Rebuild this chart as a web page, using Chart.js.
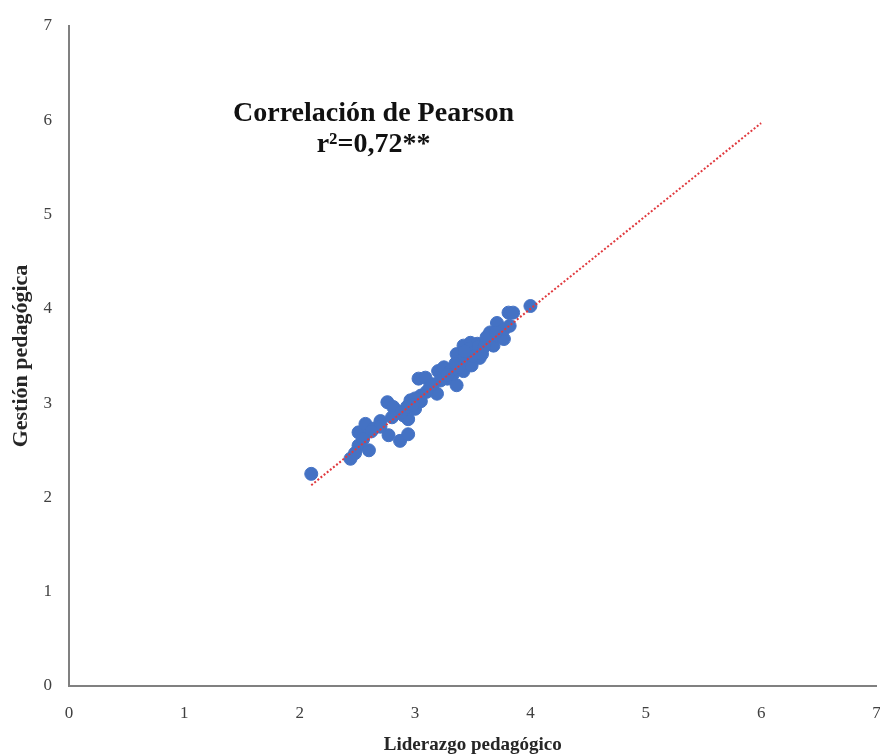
<!DOCTYPE html>
<html>
<head>
<meta charset="utf-8">
<script src="https://cdn.jsdelivr.net/npm/chart.js@4.4.1/dist/chart.umd.min.js"></script>
<style>
    html, body { margin: 0; padding: 0; background: #ffffff; overflow: hidden; }
    #wrap { width: 884px; height: 756px; }
</style>
</head>
<body>
<div id="wrap"><canvas id="scatterChart"></canvas></div>
<script>
// ===== Data =====
const liderazgo = [
    2.10, 2.44, 2.51, 2.60, 2.51, 2.57, 2.64, 2.70, 2.77, 2.87,
    2.94, 2.76, 2.84, 2.90, 2.94, 2.96, 3.00, 2.93, 3.03, 3.09,
    3.13, 3.19, 3.20, 3.25, 3.28, 3.36, 3.33, 3.36, 3.42, 3.48,
    3.54, 3.39, 3.45, 3.52, 3.56, 3.42, 3.49, 3.58, 3.65, 3.68,
    3.72, 3.77, 3.71, 3.77, 3.82, 3.81, 3.85, 4.00, 3.65, 2.81,
    2.48, 3.05, 3.30, 3.46, 3.40, 3.47, 3.55, 3.50, 3.43, 3.58,
    3.60, 3.38, 3.32, 3.22, 3.15, 3.10, 3.05, 3.00, 2.98, 2.88,
    2.80, 2.70, 2.62, 2.55, 3.62, 3.70, 3.28, 3.35
];
const gestion = [
    2.25, 2.41, 2.55, 2.50, 2.69, 2.78, 2.73, 2.81, 2.66, 2.60,
    2.67, 3.01, 2.92, 2.87, 2.83, 3.03, 2.94, 2.96, 3.26, 3.27,
    3.17, 3.10, 3.34, 3.38, 3.26, 3.19, 3.31, 3.52, 3.61, 3.64,
    3.63, 3.41, 3.48, 3.54, 3.48, 3.34, 3.40, 3.57, 3.66, 3.61,
    3.71, 3.68, 3.85, 3.78, 3.82, 3.96, 3.96, 4.03, 3.75, 2.96,
    2.47, 3.08, 3.33, 3.56, 3.45, 3.58, 3.60, 3.50, 3.55, 3.52,
    3.60, 3.38, 3.36, 3.24, 3.20, 3.12, 3.02, 3.05, 2.98, 2.90,
    2.85, 2.75, 2.70, 2.62, 3.70, 3.75, 3.30, 3.42
];

// Trend line end points
const trendX = [2.1, 6.0];
const trendY = [2.13, 5.97];

// Tick values
const tickValues = [0, 1, 2, 3, 4, 5, 6, 7];

const axisTitleX = 'Liderazgo pedagógico';
const axisTitleY = 'Gestión pedagógica';
const noteLines = ['Correlación de Pearson', 'r²=0,72**'];

const serif = '"Liberation Serif", "Times New Roman", serif';

// Annotation text inside the plot
const notePlugin = {
    id: 'notePlugin',
    afterDatasetsDraw(chart) {
        const { ctx, scales } = chart;
        const cx = scales.x.getPixelForValue(2.64);
        const y1 = scales.y.getPixelForValue(6.07);
        const y2 = scales.y.getPixelForValue(5.74);
        ctx.save();
        ctx.fillStyle = '#111111';
        ctx.textAlign = 'center';
        ctx.textBaseline = 'middle';
        ctx.font = 'bold 28px ' + serif;
        ctx.fillText(noteLines[0], cx, y1);
        ctx.fillText(noteLines[1], cx, y2);
        ctx.restore();
    }
};

const ctx = document.getElementById('scatterChart').getContext('2d');

new Chart(ctx, {
    type: 'scatter',
    data: {
        datasets: [
            {
                label: 'Datos',
                data: liderazgo.map((x, i) => ({ x: x, y: gestion[i] })),
                backgroundColor: '#4472C4',
                borderColor: '#4472C4',
                pointRadius: 6.5,
                pointHoverRadius: 6.5,
                order: 2
            },
            {
                type: 'line',
                label: 'Tendencia',
                data: trendX.map((x, i) => ({ x: x, y: trendY[i] })),
                borderColor: '#E0393E',
                borderWidth: 2,
                borderDash: [2, 2],
                pointRadius: 0,
                fill: false,
                order: 1
            }
        ]
    },
    options: {
        responsive: true,
        maintainAspectRatio: false,
        animation: false,
        layout: {
            padding: { top: 26, right: 0, left: 8, bottom: 0 }
        },
        plugins: {
            legend: { display: false },
            tooltip: { enabled: false }
        },
        scales: {
            x: {
                type: 'linear',
                min: 0,
                max: 7,
                afterBuildTicks: (scale) => {
                    scale.ticks = tickValues.map(v => ({ value: v }));
                },
                afterFit: (scale) => {
                    scale.height = 70;
                    scale.paddingRight = 0;
                    scale.paddingLeft = 0;
                },
                grid: { display: false, drawTicks: false },
                border: { display: true, color: '#808080', width: 2 },
                ticks: {
                    padding: 17,
                    color: '#404040',
                    font: { family: serif, size: 17 }
                },
                title: {
                    display: true,
                    text: axisTitleX,
                    color: '#262626',
                    padding: { top: 7, bottom: 0 },
                    font: { family: serif, size: 19, weight: 'bold' }
                }
            },
            y: {
                type: 'linear',
                min: 0,
                max: 7,
                afterBuildTicks: (scale) => {
                    scale.ticks = tickValues.map(v => ({ value: v }));
                },
                afterFit: (scale) => {
                    scale.width = 61;
                    scale.paddingTop = 0;
                    scale.paddingBottom = 0;
                },
                grid: { display: false, drawTicks: false },
                border: { display: true, color: '#808080', width: 2 },
                ticks: {
                    padding: 17,
                    color: '#404040',
                    font: { family: serif, size: 17 }
                },
                title: {
                    display: true,
                    text: axisTitleY,
                    color: '#262626',
                    padding: { top: 0, bottom: 0 },
                    font: { family: serif, size: 22, weight: 'bold' }
                }
            }
        }
    },
    plugins: [notePlugin]
});
</script>
</body>
</html>
